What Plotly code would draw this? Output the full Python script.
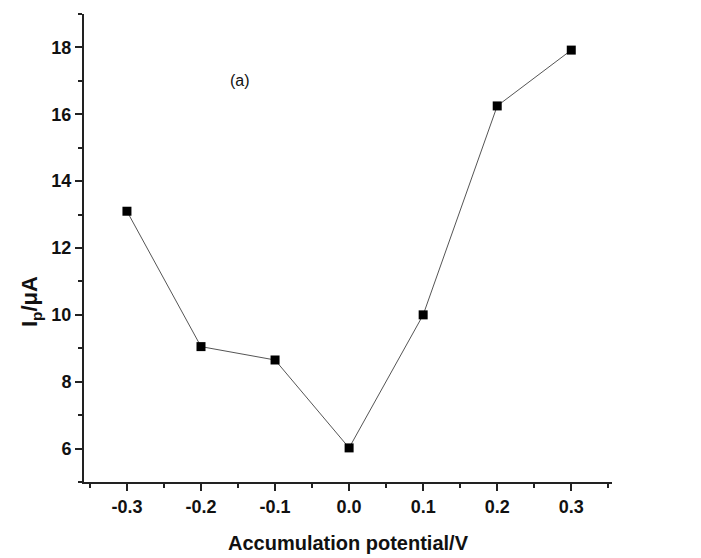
import plotly.graph_objects as go

# Accumulation potential (V) vs. peak current (µA)
potential_v = [-0.3, -0.2, -0.1, 0.0, 0.1, 0.2, 0.3]
peak_current_ua = [13.1, 9.05, 8.65, 6.02, 10.0, 16.25, 17.92]

x_ticks = [-0.3, -0.2, -0.1, 0.0, 0.1, 0.2, 0.3]
x_tick_labels = ["-0.3", "-0.2", "-0.1", "0.0", "0.1", "0.2", "0.3"]
y_ticks = [6, 8, 10, 12, 14, 16, 18]

FONT = "Liberation Sans, Arial, sans-serif"

fig = go.Figure()
fig.add_trace(go.Scatter(
    x=potential_v,
    y=peak_current_ua,
    mode="lines+markers",
    line=dict(color="#555555", width=1),
    marker=dict(symbol="square", size=9, color="black"),
    showlegend=False,
))

axis_common = dict(
    showline=True,
    linecolor="#222222",
    linewidth=2,
    showgrid=False,
    zeroline=False,
    ticks="outside",
    ticklen=7,
    tickwidth=2,
    tickcolor="#222222",
    tickfont=dict(family=FONT, size=18, color="#111111", weight="bold"),
    mirror=False,
    automargin=False,
)

fig.update_xaxes(
    range=[-0.358, 0.355],
    tickvals=x_ticks,
    ticktext=x_tick_labels,
    minor=dict(dtick=0.05, tick0=0, ticks="outside", ticklen=4, tickwidth=2, tickcolor="#222222"),
    **axis_common,
)
fig.update_yaxes(
    range=[5, 19],
    tickvals=y_ticks,
    minor=dict(dtick=1, tick0=5, ticks="outside", ticklen=4, tickwidth=2, tickcolor="#222222"),
    **axis_common,
)

fig.add_annotation(
    text="(a)", x=-0.148, y=17.0, xref="x", yref="y",
    showarrow=False, font=dict(family=FONT, size=16, color="#111111"),
)

fig.update_layout(
    width=701,
    height=558,
    margin=dict(l=84, r=89, t=14, b=76),
    paper_bgcolor="white",
    plot_bgcolor="white",
    xaxis_title=dict(
        text="Accumulation potential/V",
        font=dict(family=FONT, size=20, color="#111111", weight="bold"),
        standoff=20,
    ),
)

# Rotated y-axis title with subscript, placed as an annotation
fig.add_annotation(
    text="I<sub>p</sub>/μA", xref="paper", yref="paper",
    x=-0.1, y=0.385, textangle=-90, showarrow=False,
    font=dict(family=FONT, size=22, color="#111111", weight="bold"),
    xanchor="center", yanchor="middle",
)

fig.write_html("out.html")
